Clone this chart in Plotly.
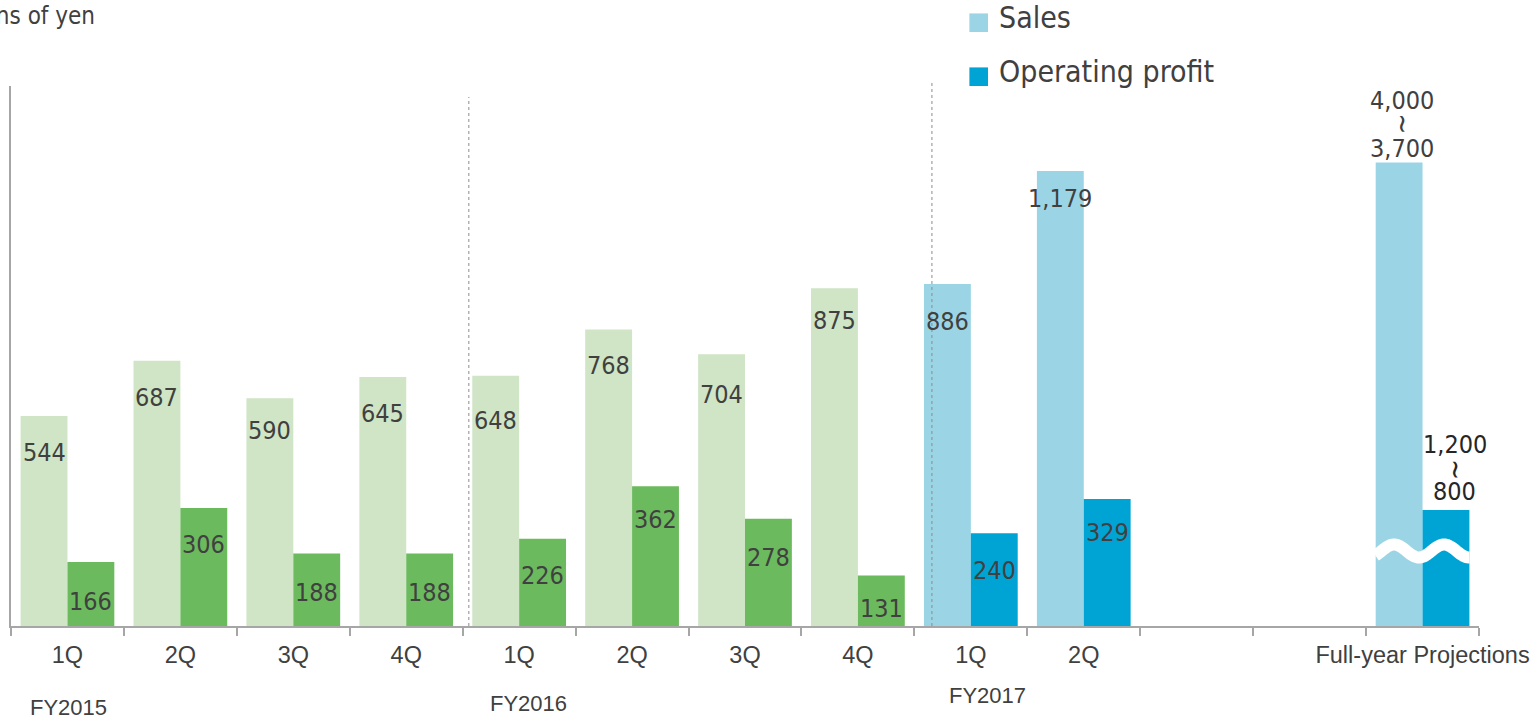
import numpy as np
import plotly.graph_objects as go

# ---------------------------------------------------------------------------
# Data (millions of yen)
# ---------------------------------------------------------------------------
quarters = ["1Q", "2Q", "3Q", "4Q", "1Q", "2Q", "3Q", "4Q", "1Q", "2Q"]
quarter_fy = ["FY2015"] * 4 + ["FY2016"] * 4 + ["FY2017"] * 2
fiscal_years = ["FY2015", "FY2016", "FY2017"]
sales = [544, 687, 590, 645, 648, 768, 704, 875, 886, 1179]
operating_profit = [166, 306, 188, 188, 226, 362, 278, 131, 240, 329]

projection_label = "Full-year Projections"
sales_projection = (3700, 4000)    # (low, high)
profit_projection = (800, 1200)    # (low, high)

series_names = ["Sales", "Operating profit"]
unit_label = "Millions of yen"

# ---------------------------------------------------------------------------
# Styling / layout
# ---------------------------------------------------------------------------
W, H = 1540, 721
L, R, T, B = 11, 1485, 86, 626          # plot area edges in pixels
PW, PH = R - L, B - T
N_SLOTS = 13                            # 10 quarters, 2 blank slots, projection
PROJ_X = 12
SLOT_PX = PW / N_SLOTS
BW = 0.415                              # width of one bar (in slots)

Y_TOP = PH / 0.386                      # quarterly scale: 0.386 px per unit
PROJ_FLOOR, PROJ_TOP = -168, 4338       # broken scale used by the projection bars

LIGHT_GREEN, GREEN = "#CFE5C5", "#6CBA5E"
LIGHT_BLUE, BLUE = "#9BD5E5", "#00A4D4"
TEXT = "#404040"
AXIS_GREY = "#A6A6A6"
LABEL_FONT = "DejaVu Sans Condensed, DejaVu Sans, sans-serif"
AXIS_FONT = "Liberation Sans, Arial, sans-serif"

# vertical drop of each value label below its bar top (px)
sales_label_drop = [36.7, 36.3, 32.7, 36.3, 44.7, 36.0, 40.0, 32.7, 37.0, 27.3]
profit_label_drop = [39.7, 36.3, 39.3, 39.3, 36.3, 33.0, 38.7, 33.3, 37.3, 33.3]


def px(xp):
    return (xp - L) / PW


def py(yp):
    return (B - yp) / PH


x_q = list(range(len(quarters)))
sales_colors = [LIGHT_BLUE if fy == "FY2017" else LIGHT_GREEN for fy in quarter_fy]
profit_colors = [BLUE if fy == "FY2017" else GREEN for fy in quarter_fy]

fig = go.Figure()

fig.add_bar(x=x_q, y=sales, width=BW, offset=-BW, name=series_names[0],
            marker=dict(color=sales_colors, line=dict(width=0)),
            showlegend=False, hoverinfo="y")
fig.add_bar(x=x_q, y=operating_profit, width=BW, offset=0, name=series_names[1],
            marker=dict(color=profit_colors, line=dict(width=0)),
            showlegend=False, hoverinfo="y")

# projection bars sit on a broken (compressed) axis starting at PROJ_FLOOR
fig.add_bar(x=[PROJ_X], y=[sales_projection[0] - PROJ_FLOOR], base=PROJ_FLOOR,
            width=BW, offset=-BW, yaxis="y2", name=series_names[0],
            marker=dict(color=LIGHT_BLUE, line=dict(width=0)),
            showlegend=False, hoverinfo="skip")
fig.add_bar(x=[PROJ_X], y=[profit_projection[0] - PROJ_FLOOR], base=PROJ_FLOOR,
            width=BW, offset=0, yaxis="y2", name=series_names[1],
            marker=dict(color=BLUE, line=dict(width=0)),
            showlegend=False, hoverinfo="skip")

annotations = []

# value labels inside the quarterly bars
for i in x_q:
    annotations.append(dict(x=i - BW / 2, y=sales[i], xref="x", yref="y",
                            text=f"{sales[i]:,}", showarrow=False,
                            yshift=-sales_label_drop[i], yanchor="middle",
                            font=dict(family=LABEL_FONT, size=25, color=TEXT)))
    annotations.append(dict(x=i + BW / 2, y=operating_profit[i], xref="x", yref="y",
                            text=f"{operating_profit[i]:,}", showarrow=False,
                            yshift=-profit_label_drop[i], yanchor="middle",
                            font=dict(family=LABEL_FONT, size=25, color=TEXT)))

# projection range labels: high, a vertical wave, low — stacked above each bar
for (low, high), dx, shifts, col in [
        (sales_projection, -BW / 2, (14.3, 38.5, 62.3), TEXT),
        (profit_projection, BW / 2, (18.3, 40.0, 65.0), "#262626")]:
    xshift = 2.5 if dx < 0 else 9
    for txt, ys, size, ang in [(f"{low:,}", shifts[0], 25, 0),
                               ("~", shifts[1], 28, 90),
                               (f"{high:,}", shifts[2], 25, 0)]:
        annotations.append(dict(x=PROJ_X + dx, y=low, xref="x", yref="y2",
                                text=txt, showarrow=False, xshift=xshift,
                                yshift=ys, yanchor="middle", textangle=ang,
                                font=dict(family=LABEL_FONT, size=size, color=col)))

# fiscal-year captions under the quarter labels
for fy, (xp, yp) in zip(fiscal_years, [(69, 707.5), (531, 703), (991, 695)]):
    annotations.append(dict(x=px(xp), y=py(yp), xref="paper", yref="paper",
                            text=fy, showarrow=False, xanchor="center",
                            yanchor="middle",
                            font=dict(family=AXIS_FONT, size=22, color=TEXT)))

# unit caption (runs off the left edge)
annotations.append(dict(x=px(97), y=py(16), xref="paper", yref="paper",
                        text=unit_label, showarrow=False, xanchor="right",
                        yanchor="middle",
                        font=dict(family=LABEL_FONT, size=24, color=TEXT)))

shapes = []

# legend
for name, col, (ysq, ytx) in zip(series_names, [LIGHT_BLUE, BLUE],
                                 [(22.7, 17.8), (76.7, 71.7)]):
    shapes.append(dict(type="rect", xref="paper", yref="paper",
                       x0=px(973.3), x1=px(992), y0=py(ysq + 9.3), y1=py(ysq - 9.3),
                       fillcolor=col, line=dict(width=0)))
    annotations.append(dict(x=px(1001), y=py(ytx), xref="paper", yref="paper",
                            text=name, showarrow=False, xanchor="left",
                            yanchor="middle",
                            font=dict(family=LABEL_FONT, size=30, color=TEXT)))

# dotted separators between fiscal years
for xp, ytop in [(470.7, py(97)), (935.7, py(81.7))]:
    shapes.append(dict(type="line", xref="paper", yref="paper", x0=px(xp), x1=px(xp),
                       y0=0, y1=ytop, line=dict(color="#8C8C8C", width=1, dash="dot")))

# axis-break wave across the projection bars
half = BW * SLOT_PX
xo = np.linspace(-half, half, 90)
yo = 6.5 * np.cos(2 * np.pi * (xo + 28.5) / 50)
path = "M " + " L ".join(f"{a:.2f},{b:.2f}" for a, b in zip(xo, yo))
shapes.append(dict(type="path", xref="x", yref="paper", xsizemode="pixel",
                   ysizemode="pixel", xanchor=PROJ_X, yanchor=py(551), path=path,
                   line=dict(color="white", width=12)))

tick_vals = x_q + [PROJ_X]
tick_text = quarters + [projection_label]

fig.update_layout(
    width=W, height=H,
    margin=dict(l=L, r=W - R, t=T, b=H - B, pad=0),
    paper_bgcolor="white", plot_bgcolor="white",
    barmode="overlay",
    showlegend=False,
    annotations=annotations,
    shapes=shapes,
    xaxis=dict(range=[-0.5, N_SLOTS - 0.5], tickmode="array", tickvals=tick_vals,
               ticktext=tick_text, ticks="", showline=True, linecolor=AXIS_GREY,
               linewidth=1.5, showgrid=False, zeroline=False,
               tickfont=dict(family=AXIS_FONT, size=23.5, color=TEXT),
               ticklabelstandoff=7,
               minor=dict(tickmode="linear", tick0=-0.5, dtick=1, ticks="outside",
                          ticklen=8, tickwidth=1.5, tickcolor=AXIS_GREY,
                          showgrid=False)),
    yaxis=dict(range=[0, Y_TOP], showline=True, linecolor=AXIS_GREY, linewidth=1.5,
               showticklabels=False, ticks="", showgrid=False, zeroline=False),
    yaxis2=dict(range=[PROJ_FLOOR, PROJ_TOP], overlaying="y", visible=False),
)

fig.write_html("out.html")
